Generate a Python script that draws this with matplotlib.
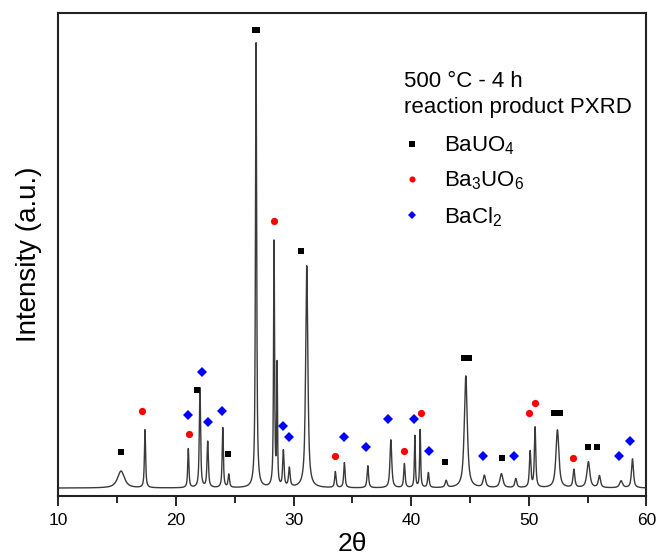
import numpy as np
import matplotlib
matplotlib.use('Agg')
import matplotlib.pyplot as plt

plt.rcParams['font.family'] = ['Liberation Sans', 'DejaVu Sans']
plt.rcParams['mathtext.fontset'] = 'custom'
plt.rcParams['mathtext.rm'] = 'Liberation Sans'
plt.rcParams['mathtext.it'] = 'Liberation Sans:italic'

# reflections: position (2theta), height (a.u.), fwhm (deg)
peak_pos = [15.33, 17.37, 21.05, 22.04, 22.70, 23.98, 24.49, 26.81, 28.34, 28.60,
            29.13, 29.64, 31.12, 33.55, 34.32, 36.31, 38.27, 39.42, 40.31, 40.76,
            41.46, 42.97, 44.64, 46.22, 47.67, 48.89, 50.11, 50.53, 52.43, 53.83,
            55.06, 56.00, 57.84, 58.81]
peak_h = [17, 58, 39, 100, 46, 60, 13, 445, 246, 120,
          36, 19, 222, 16, 25, 22, 48, 24, 52, 58,
          15, 7, 112, 12, 14, 9, 36, 60, 58, 18,
          26, 12, 7, 29]
peak_w = [0.7, 0.12, 0.12, 0.13, 0.14, 0.12, 0.14, 0.12, 0.10, 0.08,
          0.14, 0.16, 0.22, 0.14, 0.14, 0.15, 0.18, 0.14, 0.10, 0.10,
          0.15, 0.2, 0.3, 0.25, 0.3, 0.2, 0.15, 0.14, 0.3, 0.18,
          0.3, 0.22, 0.3, 0.2]

# phase markers
bauo4_x = [15.33, 21.77, 24.43, 26.73, 26.89, 30.66, 42.88, 44.46, 44.88, 47.70,
           52.18, 52.68, 55.04, 55.81]
bauo4_y = [36, 98, 34, 458, 458, 237, 26, 130, 130, 30, 75, 75, 41, 41]
ba3uo6_x = [17.09, 21.11, 28.32, 33.50, 39.42, 40.82, 50.03, 50.54, 53.79]
ba3uo6_y = [77, 54, 267, 32, 37, 75, 75, 85, 30]
bacl2_x = [21.00, 22.24, 22.70, 23.95, 29.13, 29.59, 34.27, 36.16, 38.06, 40.25,
           41.50, 46.14, 48.78, 57.70, 58.64]
bacl2_y = [73, 116, 66, 77, 62, 51, 51, 41, 69, 69, 37, 32, 32, 32, 47]

tt = np.linspace(10, 60, 6000)
inten = np.zeros_like(tt)
for p, h, w in zip(peak_pos, peak_h, peak_w):
    g = 0.5 * w
    inten += h * (0.8 / (1 + ((tt - p) / g) ** 2) + 0.2 * np.exp(-np.log(2) * ((tt - p) / g) ** 2))

fig = plt.figure(figsize=(6.59, 5.58), dpi=100)
ax = fig.add_axes([0.0885, 0.111, 0.8925, 0.8665])

ax.plot(tt, inten, color='#3a3a3a', lw=1.0)
ax.plot(bauo4_x, bauo4_y, 's', color='black', ms=4.5, mew=0, label=r'BaUO$_\mathregular{4}$')
ax.plot(ba3uo6_x, ba3uo6_y, 'o', color='red', ms=5.2, mew=0, label=r'Ba$_\mathregular{3}$UO$_\mathregular{6}$')
ax.plot(bacl2_x, bacl2_y, 'D', color='blue', ms=5.0, mew=0, label=r'BaCl$_\mathregular{2}$')

ax.set_xlim(10, 60)
ax.set_ylim(-8, 475.5)
ax.set_xticks(np.arange(10, 61, 10))
ax.set_xticks(np.arange(15, 60, 10), minor=True)
ax.set_yticks([])
ax.tick_params(axis='x', which='major', direction='out', length=7, width=1.2, labelsize=12.5, pad=5)
ax.tick_params(axis='x', which='minor', direction='out', length=5, width=1.2)
for s in ax.spines.values():
    s.set_linewidth(1.5)
    s.set_color('#222222')

ax.set_xlabel('2θ', fontsize=19, labelpad=3)
ax.set_ylabel('Intensity (a.u.)', fontsize=20, labelpad=12)

leg = ax.legend(title='500 °C - 4 h\nreaction product PXRD', loc='upper left',
                bbox_to_anchor=(0.588, 0.880), frameon=False, fontsize=16,
                title_fontsize=16, alignment='left', borderpad=0, borderaxespad=0,
                handlelength=0.7, handletextpad=1.1, labelspacing=0.56, markerscale=0.85)
leg.get_title().set_linespacing(1.35)
leg._legend_box.sep = 12

fig.savefig('out.png', dpi=100)
